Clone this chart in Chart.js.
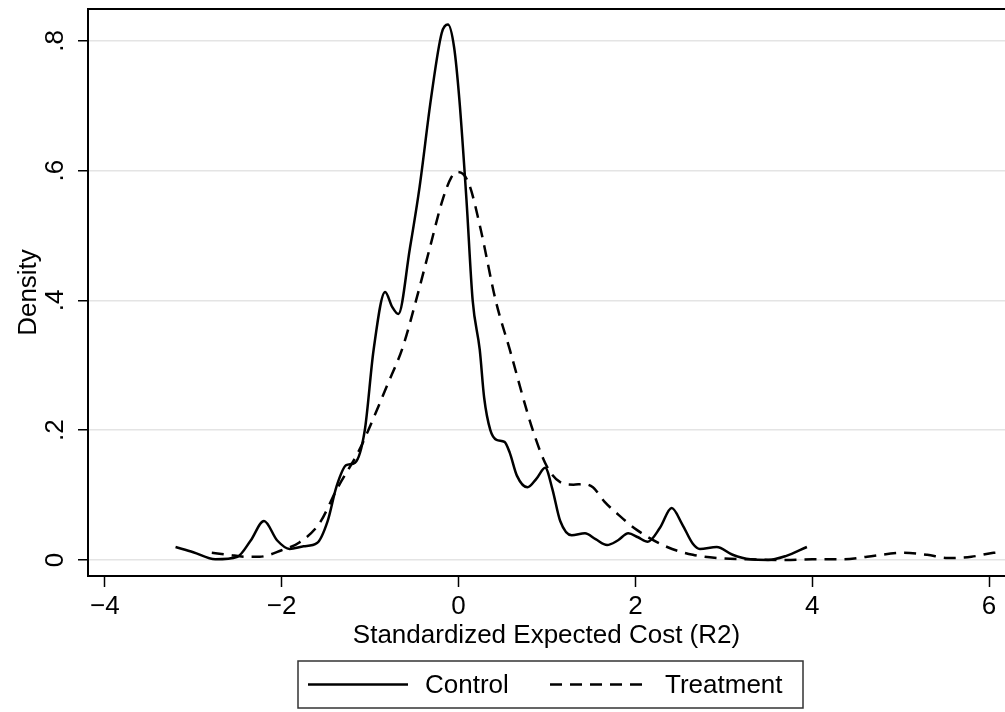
<!DOCTYPE html>
<html>
<head>
<meta charset="utf-8">
<script src="https://cdn.jsdelivr.net/npm/chart.js@4.4.1/dist/chart.umd.min.js"></script>
<style>
  html, body { margin: 0; padding: 0; background: #fff; }
  #wrap { width: 1005px; height: 712px; position: relative; }
</style>
</head>
<body>
<div id="wrap"><canvas id="chart"></canvas></div>
<script>
const FONT = '"Liberation Sans", Arial, Helvetica, sans-serif';

// kernel density, control group
const controlX = [-3.20, -3.00, -2.75, -2.50, -2.35, -2.20, -2.05, -1.91, -1.75, -1.60, -1.48, -1.38, -1.27, -1.17,
  -1.06, -0.96, -0.83, -0.75, -0.68, -0.55, -0.44, -0.31, -0.19, -0.12, -0.05, 0.01, 0.09, 0.16, 0.24, 0.29,
  0.36, 0.43, 0.52, 0.58, 0.66, 0.78, 0.88, 0.98, 1.06, 1.15, 1.28, 1.43, 1.55, 1.68, 1.80, 1.92, 2.03, 2.14,
  2.28, 2.41, 2.53, 2.65, 2.73, 2.92, 3.10, 3.30, 3.50, 3.70, 3.94];
const controlY = [0.020, 0.012, 0.001, 0.005, 0.030, 0.060, 0.030, 0.017, 0.021, 0.026, 0.060, 0.113, 0.146, 0.150,
  0.200, 0.324, 0.413, 0.390, 0.379, 0.480, 0.575, 0.712, 0.812, 0.825, 0.790, 0.709, 0.555, 0.400, 0.324, 0.250,
  0.200, 0.185, 0.182, 0.165, 0.130, 0.112, 0.125, 0.142, 0.110, 0.060, 0.038, 0.041, 0.032, 0.023, 0.030, 0.041, 0.035, 0.028,
  0.050, 0.080, 0.055, 0.025, 0.017, 0.020, 0.008, 0.001, 0.000, 0.006, 0.020];

// kernel density, treatment group
const treatX = [-2.79, -2.60, -2.40, -2.25, -2.00, -1.80, -1.57, -1.38, -1.12, -1.02, -0.81, -0.63, -0.48, -0.33,
  -0.18, -0.08, -0.02, 0.05, 0.13, 0.25, 0.42, 0.58, 0.84, 1.00, 1.15, 1.30, 1.41, 1.52, 1.65, 1.79, 2.02,
  2.36, 2.65, 2.92, 3.30, 3.70, 4.00, 4.35, 4.62, 5.03, 5.30, 5.53, 5.80, 6.05, 6.15];
const treatY = [0.011, 0.008, 0.005, 0.005, 0.015, 0.027, 0.057, 0.108, 0.170, 0.200, 0.268, 0.328, 0.400, 0.478,
  0.555, 0.590, 0.598, 0.595, 0.575, 0.510, 0.400, 0.324, 0.200, 0.144, 0.120, 0.116, 0.117, 0.112, 0.090, 0.072, 0.046,
  0.020, 0.008, 0.003, 0.001, 0.000, 0.001, 0.001, 0.005, 0.011, 0.008, 0.003, 0.005, 0.011, 0.012];

const seriesNames = ['Control', 'Treatment'];
const xTicks = [-4, -2, 0, 2, 4, 6];
const yTicks = [0, 0.2, 0.4, 0.6, 0.8];
const yTickLabels = ['0', '.2', '.4', '.6', '.8'];
const xTitle = 'Standardized Expected Cost (R2)';
const yTitle = 'Density';

const toPoints = (xs, ys) => xs.map((x, i) => ({ x: x, y: ys[i] }));

// draws the rotated y labels, axis titles, top border and the boxed legend
const stataDecor = {
  id: 'stataDecor',
  afterDraw(chart) {
    const ctx = chart.ctx;
    const area = chart.chartArea;
    const yScale = chart.scales.y;
    ctx.save();

    // top border of plot region
    ctx.strokeStyle = '#000';
    ctx.lineWidth = 2;
    ctx.beginPath();
    ctx.moveTo(area.left, area.top);
    ctx.lineTo(area.right, area.top);
    ctx.stroke();

    ctx.fillStyle = '#000';
    ctx.font = '26px ' + FONT;
    ctx.textAlign = 'center';
    ctx.textBaseline = 'alphabetic';

    // y tick labels, rotated
    yTicks.forEach((v, i) => {
      const py = yScale.getPixelForValue(v);
      ctx.save();
      ctx.translate(63, py);
      ctx.rotate(-Math.PI / 2);
      ctx.fillText(yTickLabels[i], 0, 0);
      ctx.restore();
    });

    // y title
    ctx.save();
    ctx.translate(36, (area.top + area.bottom) / 2);
    ctx.rotate(-Math.PI / 2);
    ctx.fillText(yTitle, 0, 0);
    ctx.restore();

    // x title
    ctx.fillText(xTitle, (area.left + area.right) / 2, 643);

    // legend
    const boxL = 298, boxR = 803, boxT = 661, boxB = 708;
    const midY = (boxT + boxB) / 2;
    ctx.strokeStyle = '#333';
    ctx.lineWidth = 1.5;
    ctx.strokeRect(boxL, boxT, boxR - boxL, boxB - boxT);

    const entries = [
      { lineFrom: 308, lineTo: 408, textX: 425 },
      { lineFrom: 550, lineTo: 650, textX: 665 }
    ];
    chart.data.datasets.forEach((ds, i) => {
      const e = entries[i];
      ctx.save();
      ctx.strokeStyle = ds.borderColor;
      ctx.lineWidth = ds.borderWidth;
      ctx.setLineDash(ds.borderDash || []);
      ctx.beginPath();
      ctx.moveTo(e.lineFrom, midY);
      ctx.lineTo(e.lineTo, midY);
      ctx.stroke();
      ctx.restore();
      ctx.textAlign = 'left';
      ctx.textBaseline = 'middle';
      ctx.fillText(ds.label, e.textX, midY + 1);
    });

    ctx.restore();
  }
};

const config = {
  type: 'scatter',
  data: {
    datasets: [
      {
        label: seriesNames[0],
        data: toPoints(controlX, controlY),
        showLine: true,
        borderColor: '#000',
        borderWidth: 2.5,
        pointRadius: 0,
        cubicInterpolationMode: 'monotone',
        fill: false
      },
      {
        label: seriesNames[1],
        data: toPoints(treatX, treatY),
        showLine: true,
        borderColor: '#000',
        borderWidth: 2.5,
        borderDash: [12, 8],
        pointRadius: 0,
        cubicInterpolationMode: 'monotone',
        fill: false
      }
    ]
  },
  options: {
    responsive: false,
    animation: false,
    layout: { padding: { top: 9, right: 0, left: 0, bottom: 0 } },
    plugins: {
      legend: { display: false },
      tooltip: { enabled: false }
    },
    scales: {
      x: {
        type: 'linear',
        min: -4.19,
        max: 6.18,
        afterBuildTicks: (scale) => { scale.ticks = xTicks.map(v => ({ value: v })); },
        afterFit: (scale) => { scale.height = 136; },
        border: { color: '#000', width: 2 },
        grid: {
          drawOnChartArea: false,
          drawTicks: true,
          tickLength: 11,
          tickColor: '#000',
          tickWidth: 1.5
        },
        ticks: {
          color: '#000',
          font: { family: FONT, size: 26 },
          padding: 4,
          maxRotation: 0,
          callback: (v) => v < 0 ? '\u2212' + Math.abs(v) : String(v)
        }
      },
      y: {
        type: 'linear',
        min: -0.0247,
        max: 0.849,
        afterBuildTicks: (scale) => { scale.ticks = yTicks.map(v => ({ value: v })); },
        afterFit: (scale) => { scale.width = 88; },
        border: { color: '#000', width: 2 },
        grid: {
          color: '#e4e4e4',
          lineWidth: 1.5,
          drawTicks: true,
          tickLength: 10,
          tickColor: '#000',
          tickWidth: 1.5
        },
        ticks: { display: false }
      }
    }
  },
  plugins: [stataDecor]
};

const canvas = document.getElementById('chart');
canvas.width = 1005;
canvas.height = 712;
new Chart(canvas, config);
</script>
</body>
</html>
